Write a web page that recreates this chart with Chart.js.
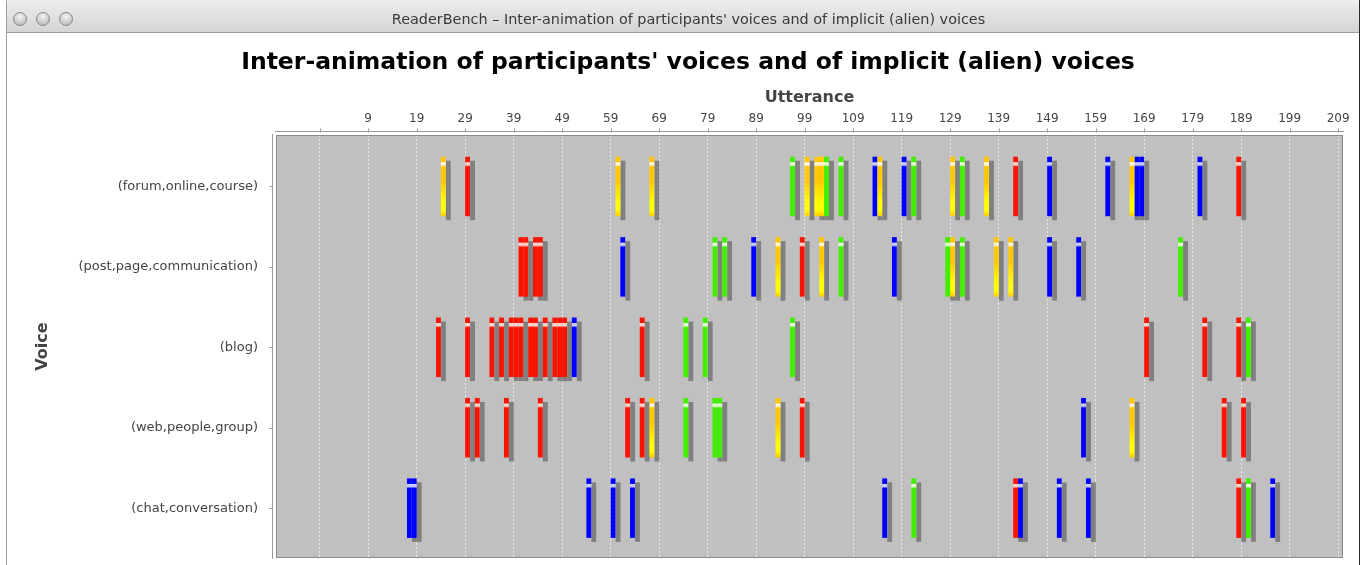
<!DOCTYPE html>
<html>
<head>
<meta charset="utf-8">
<title>ReaderBench – Inter-animation of participants' voices and of implicit (alien) voices</title>
<script src="https://cdn.jsdelivr.net/npm/chart.js@4.4.1/dist/chart.umd.min.js"></script>
<style>
html,body{margin:0;padding:0;background:#fff;width:1367px;height:565px;overflow:hidden;font-family:"DejaVu Sans",sans-serif;}
#frame{position:absolute;left:6px;top:0;width:1354px;height:565px;border-left:1px solid #a0a0a0;border-right:1px solid #2a2a2a;box-sizing:border-box;z-index:3;pointer-events:none;}
#bar{position:absolute;left:6px;top:0;width:1354px;height:33px;background:linear-gradient(#ededed,#d4d4d4);border-bottom:1px solid #9c9c9c;border-radius:5px 5px 0 0;box-sizing:border-box;z-index:2;}
.dot{position:absolute;top:12px;width:14px;height:14px;border-radius:50%;background:radial-gradient(circle at 50% 30%,#f4f4f4 0%,#cfcfcf 55%,#a9a9a9 100%);border:1px solid #888;box-sizing:border-box;}
#wtitle{position:absolute;left:11px;right:0;top:11px;text-align:center;font-size:14.4px;color:#3a3a3a;white-space:nowrap;}
#c{position:absolute;left:0;top:0;z-index:1;}
</style>
</head>
<body>
<div id="bar">
  <div class="dot" style="left:7px"></div>
  <div class="dot" style="left:30px"></div>
  <div class="dot" style="left:53px"></div>
  <div id="wtitle">ReaderBench – Inter-animation of participants' voices and of implicit (alien) voices</div>
</div>
<div id="frame"></div>
<canvas id="c" width="1367" height="565"></canvas>
<script>
// ---------- data ----------
const voices = ['(forum,online,course)', '(post,page,communication)', '(blog)', '(web,people,group)', '(chat,conversation)'];
const xTickValues = [-1, 9, 19, 29, 39, 49, 59, 69, 79, 89, 99, 109, 119, 129, 139, 149, 159, 169, 179, 189, 199, 209];
// utterance numbers per voice (same order as voices), one list per series
const redUtterances = [
  [29, 142, 188],
  [40, 41, 43, 44, 98],
  [23, 29, 34, 36, 38, 39, 40, 42, 43, 45, 47, 48, 49, 65, 169, 181, 188],
  [29, 31, 37, 44, 62, 65, 98, 185, 189],
  [142, 188]
];
const yellowUtterances = [
  [24, 60, 67, 99, 101, 102, 114, 129, 136, 166],
  [93, 102, 129, 138, 141],
  [],
  [67, 93, 166],
  []
];
const greenUtterances = [
  [96, 103, 106, 121, 131],
  [80, 82, 106, 128, 131, 176],
  [74, 78, 96, 190],
  [74, 80, 81],
  [121, 190]
];
const blueUtterances = [
  [113, 119, 149, 161, 167, 168, 180],
  [61, 88, 117, 149, 155],
  [51],
  [156],
  [17, 18, 54, 59, 63, 115, 143, 151, 157, 195]
];

// ---------- styles ----------
const palette = {
  red:    {base:'#f81400', top:'#f81400', mid:'#f81400', hl:'#ffd2cc'},
  yellow: {base:'#ffc800', top:'#ffc800', mid:'#ffff00', hl:'#fff6dc'},
  green:  {base:'#44ee00', top:'#44ee00', mid:'#44ee00', hl:'#e2ffd4'},
  blue:   {base:'#0000ff', top:'#0000ff', mid:'#0000ff', hl:'#c8ccff'}
};
const BAR_FRACTION = 0.74;

function toPoints(lists){
  const pts = [];
  lists.forEach((arr, row) => arr.forEach(u => pts.push({x:[u, u + 1], y: row})));
  return pts;
}

const gradCache = {};
function barFill(key){
  return function(ctx){
    const chart = ctx.chart;
    const p = palette[key];
    const ys = chart.scales && chart.scales.y;
    if (!ys || !chart.chartArea || !ctx.raw) return p.base;
    const row = ctx.raw.y;
    const c = ys.getPixelForValue(row);
    const h = Math.abs(ys.getPixelForValue(1) - ys.getPixelForValue(0)) * BAR_FRACTION;
    const top = c - h / 2;
    const id = key + '_' + row + '_' + Math.round(top);
    if (gradCache[id]) return gradCache[id];
    const g = chart.ctx.createLinearGradient(0, top, 0, top + h);
    g.addColorStop(0, p.top);
    g.addColorStop(0.085, p.top);
    g.addColorStop(0.10, p.hl);
    g.addColorStop(0.135, p.hl);
    g.addColorStop(0.17, p.base);
    g.addColorStop(0.40, p.base);
    g.addColorStop(0.78, p.mid);
    g.addColorStop(0.90, p.mid);
    g.addColorStop(1, p.base);
    gradCache[id] = g;
    return g;
  };
}

const seriesDefs = [
  ['red', redUtterances],
  ['yellow', yellowUtterances],
  ['green', greenUtterances],
  ['blue', blueUtterances]
];

// ---------- plugins ----------
const plotFrame = {
  id: 'plotFrame',
  beforeDraw(chart){
    const {ctx, chartArea:a} = chart;
    ctx.save();
    ctx.fillStyle = '#c0c0c0';
    ctx.fillRect(a.left, a.top, a.width, a.height);
    ctx.restore();
  },
  afterDraw(chart){
    const {ctx, chartArea:a, scales} = chart;
    ctx.save();
    ctx.lineWidth = 1;
    ctx.strokeStyle = '#8a8a8a';
    ctx.strokeRect(Math.round(a.left) + 0.5, Math.round(a.top) + 0.5, Math.round(a.width) - 1, Math.round(a.height) - 1);
    // top axis line + ticks
    const ya = Math.round(a.top - 4) + 0.5;
    ctx.strokeStyle = '#9a9a9a';
    ctx.beginPath();
    ctx.moveTo(a.left - 1, ya); ctx.lineTo(a.right + 1, ya);
    scales.x.ticks.forEach(t => {
      const px = Math.round(scales.x.getPixelForValue(t.value)) + 0.5;
      ctx.moveTo(px, ya - 3); ctx.lineTo(px, ya + 1);
    });
    // left axis line + ticks
    const xa = Math.round(a.left - 4) + 0.5;
    ctx.moveTo(xa, a.top - 1); ctx.lineTo(xa, a.bottom + 1);
    scales.y.ticks.forEach(t => {
      const py = Math.round(scales.y.getPixelForValue(t.value)) + 0.5;
      ctx.moveTo(xa - 3, py); ctx.lineTo(xa, py);
    });
    ctx.stroke();
    ctx.restore();
  }
};

const barShadows = {
  id: 'barShadows',
  beforeDatasetsDraw(chart){
    const {ctx, chartArea:a} = chart;
    ctx.save();
    ctx.beginPath();
    ctx.rect(a.left, a.top, a.width, a.height);
    ctx.clip();
    ctx.fillStyle = '#808080';
    chart.data.datasets.forEach((ds, i) => {
      const meta = chart.getDatasetMeta(i);
      if (meta.hidden) return;
      meta.data.forEach(el => {
        const {x, y, base, height} = el.getProps(['x', 'y', 'base', 'height'], true);
        const l = Math.min(x, base), w = Math.abs(x - base);
        ctx.fillRect(l + 5, y - height / 2 + 4, w, height);
      });
    });
    ctx.restore();
  }
};

// ---------- chart ----------
Chart.defaults.font.family = '"DejaVu Sans", sans-serif';
Chart.defaults.color = '#444';

new Chart(document.getElementById('c'), {
  type: 'bar',
  data: {
    datasets: seriesDefs.map(([key, lists]) => ({
      label: key,
      data: toPoints(lists),
      backgroundColor: barFill(key),
      borderWidth: 0,
      borderSkipped: false,
      grouped: false,
      categoryPercentage: 1,
      barPercentage: BAR_FRACTION
    }))
  },
  options: {
    indexAxis: 'y',
    responsive: false,
    animation: false,
    devicePixelRatio: 1,
    layout: {padding: {left: 33, right: 24, top: 0, bottom: 7}},
    plugins: {
      legend: {display: false},
      tooltip: {enabled: false},
      title: {
        display: true,
        text: "Inter-animation of participants' voices and of implicit (alien) voices",
        color: '#000',
        font: {size: 23.5, weight: 'bold'},
        padding: {top: 49, bottom: 0}
      }
    },
    scales: {
      x: {
        type: 'linear',
        position: 'top',
        min: -10,
        max: 210,
        afterFit(s){ s.height = 135 - 49 - 28.2; s.paddingLeft = 0; s.paddingRight = 0; },
        afterBuildTicks(s){ s.ticks = xTickValues.map(v => ({value: v})); },
        ticks: {
          autoSkip: false,
          maxRotation: 0,
          padding: 9,
          color: '#444',
          font: {size: 12},
          callback: v => (v < 0 ? '' : String(v))
        },
        grid: {
          display: true,
          drawTicks: false,
          color: 'rgba(236,236,236,0.95)',
          lineWidth: 1
        },
        border: {display: false, dash: [2, 2]},
        title: {
          display: true,
          text: 'Utterance',
          color: '#444',
          font: {size: 16, weight: 'bold'},
          padding: {top: 11, bottom: 0}
        }
      },
      y: {
        type: 'linear',
        reverse: true,
        offset: false,
        min: -0.64,
        max: 4.62,
        afterFit(s){ s.width = 243; s.paddingTop = 0; s.paddingBottom = 0; },
        afterBuildTicks(s){ s.ticks = voices.map((v, i) => ({value: i})); },
        ticks: {
          autoSkip: false,
          padding: 18,
          color: '#444',
          font: {size: 13},
          callback: v => voices[v] ?? ''
        },
        grid: {display: false, drawTicks: false, offset: false},
        border: {display: false},
        title: {
          display: true,
          text: 'Voice',
          color: '#444',
          font: {size: 16, weight: 'bold'},
          padding: {top: 0, bottom: 0}
        }
      }
    }
  },
  plugins: [plotFrame, barShadows]
});
</script>
</body>
</html>
